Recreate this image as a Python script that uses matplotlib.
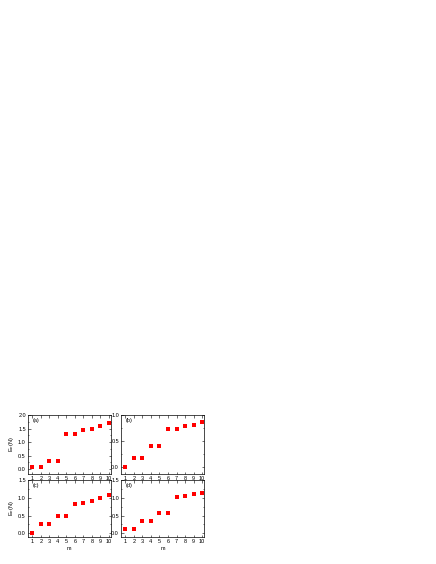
import numpy as np
import matplotlib.pyplot as plt
from matplotlib.ticker import MultipleLocator, FormatStrFormatter

plt.rcParams['font.family'] = ['Liberation Sans', 'DejaVu Sans']

m = np.arange(1, 11)
Ea = [0.08, 0.08, 0.30, 0.30, 1.30, 1.31, 1.43, 1.48, 1.60, 1.70]
Eb = [0.00, 0.17, 0.17, 0.41, 0.41, 0.73, 0.73, 0.79, 0.81, 0.87]
Ec = [0.00, 0.25, 0.25, 0.50, 0.50, 0.83, 0.86, 0.92, 0.98, 1.07]
Ed = [0.11, 0.11, 0.34, 0.34, 0.58, 0.58, 1.03, 1.04, 1.10, 1.14]
labels = ['(a)', '(b)', '(c)', '(d)']
ylims = [(-0.18, 2.0), (-0.13, 1.0), (-0.1, 1.5), (-0.1, 1.5)]

fig = plt.figure(figsize=(4.36, 5.64), dpi=100)
# axes boxes in figure fractions
boxes = [[0.064, 0.1596, 0.19, 0.1046],
         [0.2775, 0.1596, 0.19, 0.1046],
         [0.064, 0.048, 0.19, 0.101],
         [0.2775, 0.048, 0.19, 0.101]]

fs = 4
for k, E in enumerate([Ea, Eb, Ec, Ed]):
    ax = fig.add_axes(boxes[k])
    ax.plot(m, E, 's', color='red', markersize=2.4, markeredgewidth=0)
    ax.set_xlim(0.5, 10.2)
    ax.set_ylim(*ylims[k])
    ax.xaxis.set_major_locator(MultipleLocator(1))
    ax.yaxis.set_major_locator(MultipleLocator(0.5))
    ax.yaxis.set_minor_locator(MultipleLocator(0.25))
    ax.yaxis.set_major_formatter(FormatStrFormatter('%.1f'))
    ax.tick_params(which='both', direction='in', top=True, right=True,
                   labelsize=fs, width=0.4, pad=1.5)
    ax.tick_params(which='major', length=1.8)
    ax.tick_params(which='minor', length=1.0)
    for s in ax.spines.values():
        s.set_linewidth(0.5)
    ax.text(0.06, 0.88, labels[k], transform=ax.transAxes, fontsize=fs)
    if k % 2 == 0:
        ax.set_ylabel('E$_n$(N)', fontsize=fs, labelpad=1.5)
    if k >= 2:
        ax.set_xlabel('m', fontsize=fs, labelpad=1.5)

fig.savefig('out.png', dpi=100)
